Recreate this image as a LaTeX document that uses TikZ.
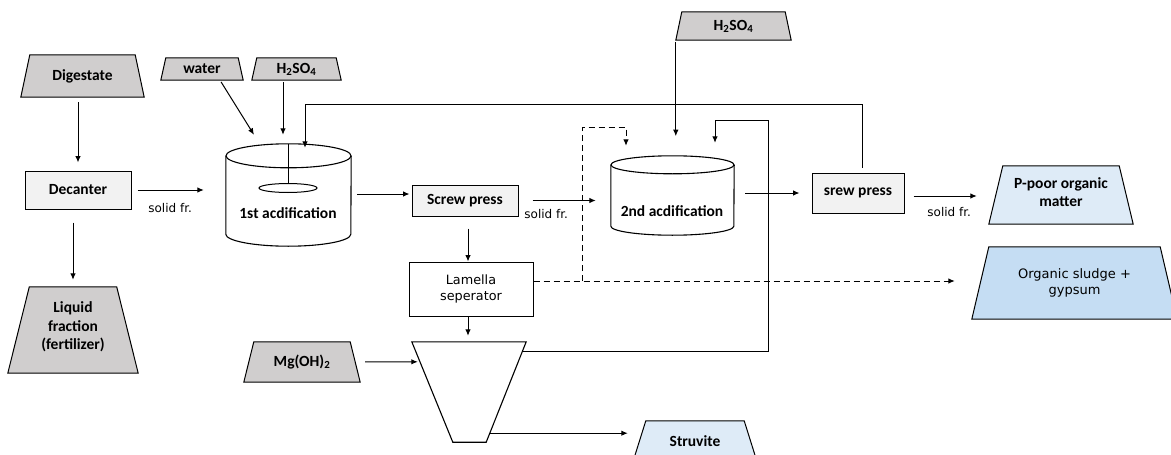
\documentclass[tikz,border=0pt]{standalone}
\usepackage{fontspec}
\setmainfont{Carlito}
\newfontfamily\verdfont{DejaVu Sans}
\usetikzlibrary{arrows.meta,shapes.geometric,backgrounds}
\definecolor{feedgray}{HTML}{D0CECE}
\definecolor{unitgray}{HTML}{F2F2F2}
\definecolor{prodblue}{HTML}{DEEBF7}
\definecolor{sludgeblue}{HTML}{C5DDF3}
% trapezoid round a node: node, top inset, style
\newcommand{\trapshape}[3]{%
  \draw[#3] ([xshift=#2]#1.north west) -- ([xshift=-#2]#1.north east)
    -- (#1.south east) -- (#1.south west) -- cycle;}
\tikzset{
  flow/.style={-{Latex[length=6.5pt,width=5.5pt]}, line width=1pt},
  plain/.style={line width=0.8pt},
  dashflow/.style={dash pattern=on 6pt off 4pt},
  boldtext/.style={font=\fontsize{15.5}{18.5}\selectfont\bfseries},
  feed/.style={boldtext, inner sep=0pt, align=center},
  unitbox/.style={boldtext, draw, line width=1pt, fill=unitgray, inner sep=0pt},
  sepbox/.style={draw, line width=1pt, fill=white, inner sep=0pt, align=center,
    font=\verdfont\fontsize{12.8}{16.5}\selectfont},
  flowlabel/.style={font=\verdfont\fontsize{12}{13}\selectfont, inner sep=1pt},
  tankbox/.style={inner sep=0pt},
  tankline/.style={line width=1.1pt, fill=white},
  feedfill/.style={draw, line width=1pt, fill=feedgray},
  prodfill/.style={draw, line width=1pt, fill=prodblue},
  sludgefill/.style={draw, line width=1pt, fill=sludgeblue},
}
\begin{document}
\begin{tikzpicture}[x=1pt,y=1pt]
  \useasboundingbox (0,0) rectangle (1171,-455);
  \clip (0,0) rectangle (1171,-455);
  % feeds and products
  \node[feed, minimum width=123pt, minimum height=42pt] (dig) at (82.5,-76) {Digestate};
  \node[feed, minimum width=82pt, minimum height=22pt] (water) at (202,-69) {water};
  \node[feed, minimum width=89pt, minimum height=22pt] (acidone) at (296.5,-69) {H\textsubscript{2}SO\textsubscript{4}};
  \node[feed, minimum width=130pt, minimum height=86pt, text depth=8pt] (liquid) at (73,-330) {Liquid\\fraction\\(fertilizer)};
  \node[feed, minimum width=115pt, minimum height=28pt] (acidtwo) at (733.5,-26) {H\textsubscript{2}SO\textsubscript{4}};
  \node[feed, minimum width=144pt, minimum height=58pt, text depth=6pt] (ppoor) at (1061,-195) {P-poor organic\\matter};
  \node[feed, font=\verdfont\fontsize{13}{16}\selectfont, minimum width=205pt, minimum height=72pt] (sludge) at (1074.5,-283) {Organic sludge +\\gypsum};
  \node[feed, minimum width=116pt, minimum height=40pt] (mgoh) at (302,-362) {Mg(OH)\textsubscript{2}};
  \node[feed, minimum width=124pt, minimum height=41pt] (struvite) at (695,-441.5) {Struvite};
  % process units
  \node[unitbox, minimum width=106pt, minimum height=38pt] (decanter) at (78,-190) {Decanter};
  \node[unitbox, minimum width=106pt, minimum height=31pt] (screw) at (465,-200.5) {Screw press};
  \node[unitbox, minimum width=92pt, minimum height=40pt] (srew) at (858,-193) {srew press};
  \node[sepbox, minimum width=124pt, minimum height=54pt] (lamella) at (471,-289) {Lamella\\seperator};
  \node[tankbox, minimum width=125pt, minimum height=102pt] (tankone) at (288.5,-195) {};
  \node[tankbox, minimum width=123pt, minimum height=79pt] (tanktwo) at (672.5,-195.5) {};
  \node[tankbox, minimum width=114pt, minimum height=100pt] (mixer) at (469,-392) {};
  \node[feed] (tankonetext) at (288,-213) {1st acdification};
  \node[feed] (tanktwotext) at (672,-211) {2nd acdification};
  \node[ellipse, draw, line width=1pt, minimum width=58pt, minimum height=9pt, inner sep=0pt] (stirrer) at (288,-188) {};
  \begin{scope}[on background layer]
    \trapshape{dig}{9pt}{feedfill}
    \trapshape{water}{5pt}{feedfill}
    \trapshape{acidone}{5pt}{feedfill}
    \trapshape{liquid}{21.5pt}{feedfill}
    \trapshape{acidtwo}{6pt}{feedfill}
    \trapshape{mgoh}{10pt}{feedfill}
    \trapshape{ppoor}{14pt}{prodfill}
    \trapshape{struvite}{13pt}{prodfill}
    \trapshape{sludge}{17pt}{sludgefill}
    \draw[tankline] (mixer.north west) -- (mixer.north east)
      -- ([xshift=-40pt]mixer.south east) -- ([xshift=41pt]mixer.south west) -- cycle;
    \draw[tankline] ([yshift=-12pt]tankone.north west) -- ([yshift=12pt]tankone.south west)
      arc[start angle=180, end angle=360, x radius=62.5pt, y radius=12pt]
      -- ([yshift=-12pt]tankone.north east);
    \draw[tankline] ([yshift=-12pt]tankone.north) ellipse[x radius=62.5pt, y radius=12pt];
    \draw[tankline] ([yshift=-9pt]tanktwo.north west) -- ([yshift=9pt]tanktwo.south west)
      arc[start angle=180, end angle=360, x radius=61.5pt, y radius=9pt]
      -- ([yshift=-9pt]tanktwo.north east);
    \draw[tankline] ([yshift=-9pt]tanktwo.north) ellipse[x radius=61.5pt, y radius=9pt];
  \end{scope}
  % main line
  \draw[flow, shorten <=5pt, shorten >=8pt] (decanter.north |- dig.south) -- (decanter.north);
  \draw[flow, shorten <=13pt, shorten >=7pt] (liquid.north |- decanter.south) -- (liquid.north);
  \draw[flow, shorten <=6pt, shorten >=22pt] (decanter.east) -- (decanter.east -| tankone.west)
    node[flowlabel, pos=0.41, below=12pt] (labelone) {solid fr.};
  \draw[flow, shorten <=2pt] ([xshift=18pt]water.south) -- ([xshift=-34.5pt,yshift=9pt]tankone.north);
  \draw[flow, shorten <=2pt] ([xshift=-13.5pt]acidone.south) -- ([xshift=-5.5pt,yshift=9pt]tankone.north);
  \draw[plain] (stirrer.north) -- (stirrer.north |- tankone.north);
  \draw[flow, shorten <=6pt, shorten >=2pt] ([yshift=1pt]tankone.east) -- ([yshift=1pt]tankone.east -| screw.west);
  \draw[flow, shorten <=14pt, shorten >=15pt] (screw.east) -- (screw.east -| tanktwo.west)
    node[flowlabel, pos=0.3, below=7.5pt] (labeltwo) {solid fr.};
  \draw[flow, shorten <=2pt] (acidtwo.south west) -- ++(0,-96pt);
  \draw[flow, shorten <=11pt, shorten >=12pt] (tanktwo.east |- srew.west) -- (srew.west);
  \draw[flow, shorten <=9pt, shorten >=12pt] ([yshift=-3pt]srew.east) -- ([yshift=-3pt]srew.east -| ppoor.west)
    node[flowlabel, pos=0.53, below=10pt] (labelthree) {solid fr.};
  % recycle from srew press
  \draw[flow] ([xshift=4pt,yshift=5pt]srew.north) -- ++(0,63pt) -| ([xshift=16.5pt,yshift=-4pt]tankone.north);
  % lamella and struvite
  \draw[flow, shorten <=12pt] ([xshift=3pt]screw.south) -- ([xshift=-3pt]lamella.north);
  \draw[flow, shorten >=6pt] ([xshift=-3pt]lamella.south) -- ([xshift=-1pt]mixer.north);
  \draw[flow, dashflow, shorten >=17pt] ([yshift=8pt]lamella.east) -- ([yshift=8pt]lamella.east -| sludge.west);
  \draw[flow, dashflow] ([xshift=49pt,yshift=8pt]lamella.east) -- ++(0,154pt) -| ([xshift=-46.5pt,yshift=10pt]tanktwo.north);
  \draw[flow, shorten <=5pt] (mgoh.east) -- ([xshift=6pt,yshift=-20pt]mixer.north west);
  \coordinate (mixout) at ([xshift=-36pt,yshift=9pt]mixer.south east);
  \draw[flow, shorten >=5pt] (mixout) -- (mixout -| struvite.west);
  \draw[flow] ([xshift=-4pt,yshift=-10pt]mixer.north east) -- ++(246pt,0) -- ++(0,231pt)
    -| ([xshift=42.5pt,yshift=13pt]tanktwo.north);
\end{tikzpicture}
\end{document}
